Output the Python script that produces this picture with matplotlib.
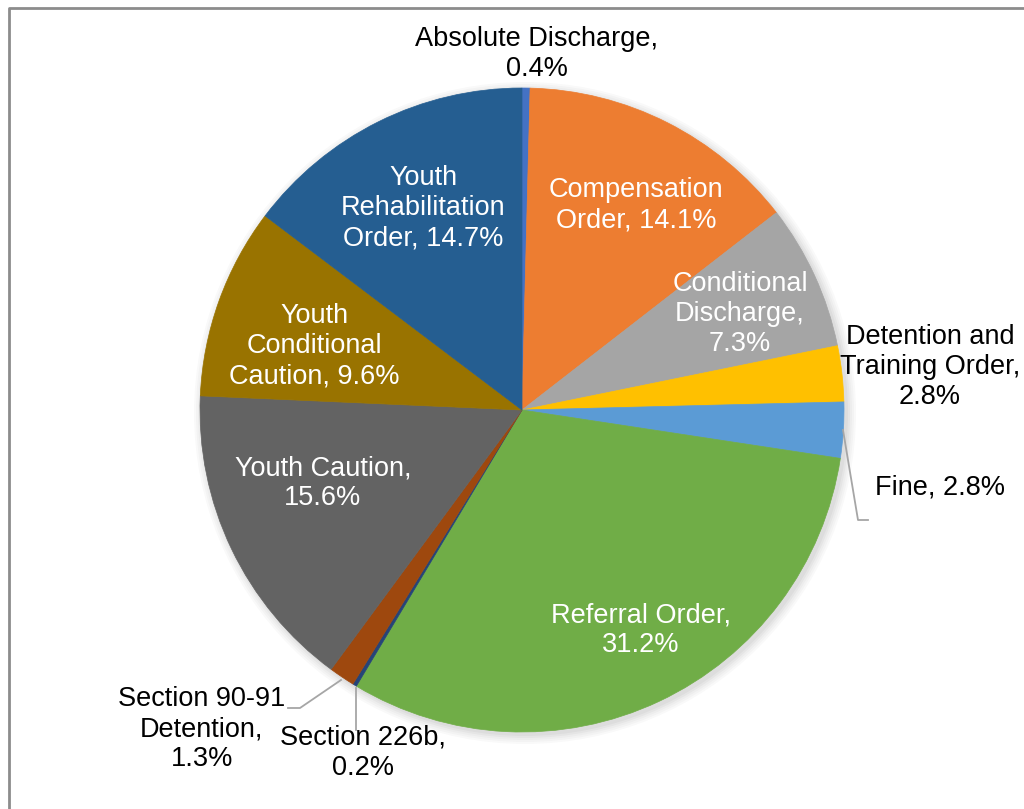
import matplotlib
matplotlib.use("Agg")
import matplotlib.pyplot as plt
from matplotlib.patches import Circle

plt.rcParams['font.family'] = ['Liberation Sans', 'DejaVu Sans']

categories = [
    "Absolute Discharge", "Compensation Order", "Conditional Discharge",
    "Detention and Training Order", "Fine", "Referral Order",
    "Section 226b", "Section 90-91 Detention", "Youth Caution",
    "Youth Conditional Caution", "Youth Rehabilitation Order",
]
shares = [0.4, 14.1, 7.3, 2.8, 2.8, 31.2, 0.2, 1.3, 15.6, 9.6, 14.7]
colors = [
    "#4472C4", "#ED7D31", "#A5A5A5", "#FFC000", "#5B9BD5", "#70AD47",
    "#264478", "#9E480E", "#636363", "#997300", "#255E91",
]
label_text = [
    "Absolute Discharge,\n{:.1f}%", "Compensation\nOrder, {:.1f}%",
    "Conditional\nDischarge,\n{:.1f}%", "Detention and\nTraining Order,\n{:.1f}%",
    "Fine, {:.1f}%", "Referral Order,\n{:.1f}%", "Section 226b,\n{:.1f}%",
    "Section 90-91\nDetention,\n{:.1f}%", "Youth Caution,\n{:.1f}%",
    "Youth\nConditional\nCaution, {:.1f}%", "Youth\nRehabilitation\nOrder, {:.1f}%",
]
inside = [False, True, True, False, False, True, False, False, True, True, True]

W, H = 1024, 809
fig = plt.figure(figsize=(W / 100, H / 100), dpi=100)
ax = fig.add_axes([0, 0, 1, 1])


def py(y):
    return H - y


cx, cy, r = 522, py(410), 322

# soft drop shadow under the pie
for i, a in enumerate([0.025, 0.025, 0.025, 0.03, 0.03]):
    ax.add_patch(Circle((cx + 3, cy - 3), r + 9 - 2 * i, color='black', alpha=a, lw=0, zorder=1))

wedges, _ = ax.pie(shares, colors=colors, startangle=90, counterclock=False,
                   center=(cx, cy), radius=r, frame=True,
                   wedgeprops=dict(linewidth=0, zorder=2))
# seal antialiasing seams between neighbouring wedges
for w, c in zip(wedges, colors):
    w.set_edgecolor(c)
    w.set_linewidth(0.5)

ax.set_xlim(0, W)
ax.set_ylim(0, H)
ax.set_aspect('equal')
ax.axis('off')

# label anchors (pixel coordinates of text block centres)
label_pos = [
    (537, 54), (636, 205), (740, 314), (930, 367), (940, 487), (641, 630),
    (363, 753), (202, 729), (323, 483), (314, 346), (423, 208),
]
for txt, val, (lx, ly), ins in zip(label_text, shares, label_pos, inside):
    ax.text(lx, py(ly), txt.format(val), ha='center', va='center',
            fontsize=19.5, linespacing=1.2,
            color='white' if ins else 'black', zorder=5)

# leader lines
lc = '#A6A6A6'
ax.plot([843, 858, 868], [py(430), py(520), py(520)], color=lc, lw=1.3, zorder=4)
ax.plot([341, 300, 288], [py(680), py(708), py(708)], color=lc, lw=1.3, zorder=4)
ax.plot([356, 356], [py(688), py(730)], color=lc, lw=1.3, zorder=4)

# chart frame
ax.plot([8.5, 8.5, W + 5], [-5, py(7.5), py(7.5)], color='#8C8C8C', lw=2, zorder=6)

fig.savefig("out.png", dpi=100)
